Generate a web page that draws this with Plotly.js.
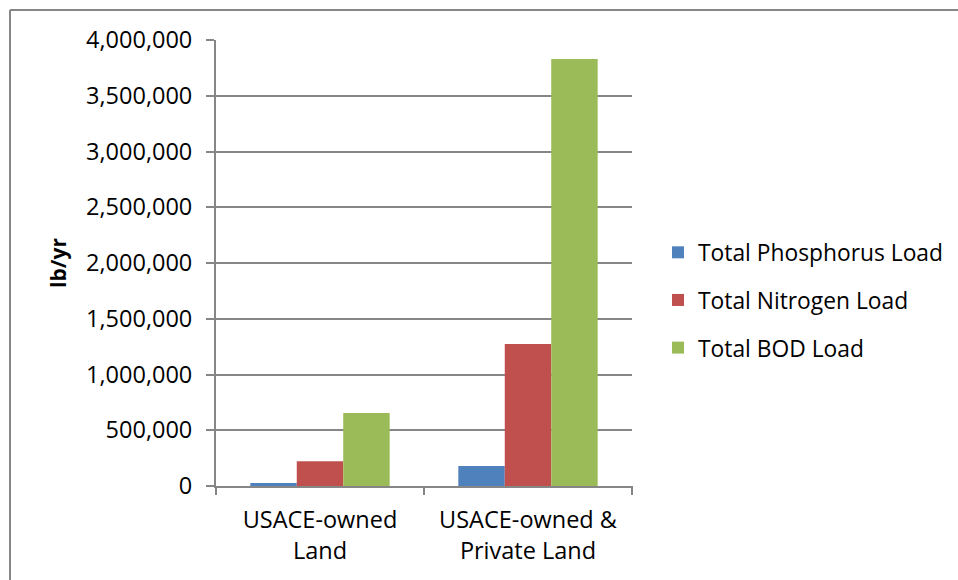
<!DOCTYPE html>
<html><head><meta charset="utf-8">
<script src="https://cdn.plot.ly/plotly-3.0.1.min.js"></script>
<style>html,body{margin:0;padding:0;background:#fff}#chart{width:958px;height:580px}</style>
</head><body><div id="chart"></div>
<script>
const categories = ["USACE-owned<br>Land", "USACE-owned &<br>Private Land"];
const seriesNames = ["Total Phosphorus Load", "Total Nitrogen Load", "Total BOD Load"];
const phosphorus = [28000, 180000];
const nitrogen = [221000, 1273000];
const bod = [655000, 3830000];
const yTickVals = [0, 500000, 1000000, 1500000, 2000000, 2500000, 3000000, 3500000, 4000000];
const yTickText = ["0", "500,000", "1,000,000", "1,500,000", "2,000,000", "2,500,000", "3,000,000", "3,500,000", "4,000,000"];
const colors = ["#4F81BD", "#C0504D", "#9BBB59"];
const values = [phosphorus, nitrogen, bod];

const FONT = "Open Sans, Noto Sans, sans-serif";
const traces = values.map((v, i) => ({
  type: "bar", x: categories, y: v, name: seriesNames[i],
  legendgroup: "g" + i,
  marker: {color: colors[i], line: {width: 0}},
  hoverinfo: "y+name"
}));

const W = 416, H = 446, L = 216, T = 40;
const px = x => (x - L) / W;
const py = y => 1 - (y - T) / H;

const layout = {
  width: 958, height: 580,
  margin: {l: 216, r: 326, t: 40, b: 94, autoexpand: false},
  paper_bgcolor: "#fff", plot_bgcolor: "#fff",
  font: {family: FONT, size: 23.5, color: "#000"},
  barmode: "group", bargap: 0.33, bargroupgap: 0,
  showlegend: true,
  legend: {x: px(658), y: py(231), xanchor: "left", yanchor: "top",
    font: {family: FONT, size: 22.8, color: "#000"},
    traceorder: "grouped", tracegroupgap: 15, itemwidth: 30,
    bgcolor: "rgba(0,0,0,0)"},
  xaxis: {
    automargin: false,
    showline: true, linecolor: "#868686", linewidth: 2,
    ticks: "", showgrid: false, zeroline: false,
    tickfont: {family: FONT, size: 23.5, color: "#000"},
    ticklabelstandoff: 12,
    fixedrange: true
  },
  yaxis: {
    automargin: false,
    range: [0, 4000000], tickvals: yTickVals, ticktext: yTickText,
    showline: true, linecolor: "#868686", linewidth: 2,
    ticks: "outside", ticklen: 8, tickcolor: "#868686", tickwidth: 2,
    showgrid: true, gridcolor: "#868686", gridwidth: 2, zeroline: false,
    tickfont: {family: FONT, size: 23.5, color: "#000"},
    ticklabelstandoff: 9,
    title: {text: "<b>lb/yr</b>", font: {family: FONT, size: 21, color: "#000"}, standoff: 14},
    fixedrange: true
  },
  shapes: [
    ...[216, 424, 632].map(x => ({type: "line", xref: "paper", yref: "paper",
      x0: px(x), x1: px(x), y0: py(486), y1: py(495), line: {color: "#868686", width: 2}})),
    {type: "line", xref: "paper", yref: "paper", x0: px(10), x1: px(10), y0: py(10), y1: py(600), line: {color: "#868686", width: 2}},
    {type: "line", xref: "paper", yref: "paper", x0: px(10), x1: px(1000), y0: py(10), y1: py(10), line: {color: "#868686", width: 2}}
  ]
};
Plotly.newPlot("chart", traces, layout, {displayModeBar: false, staticPlot: true});
</script></body></html>
